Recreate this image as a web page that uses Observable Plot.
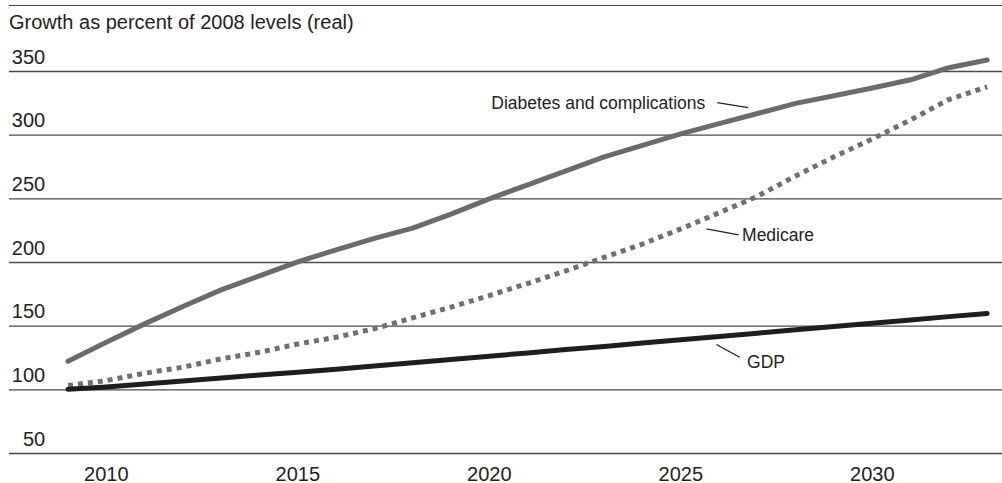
<!DOCTYPE html>
<html><head><meta charset="utf-8">
<script src="https://cdn.jsdelivr.net/npm/d3@7"></script>
<script src="https://cdn.jsdelivr.net/npm/@observablehq/plot@0.6"></script>
<style>
html,body{margin:0;padding:0;background:#fff;}
#wrap{position:relative;width:1002px;height:483px;font-family:"Liberation Sans",Arial,sans-serif;color:#222;overflow:hidden;}
#rule{position:absolute;left:9px;right:0;top:5px;border-top:1.4px solid #444;}
#title{position:absolute;left:9px;top:12px;font-size:20px;line-height:20px;white-space:nowrap;}
#chart{position:absolute;left:0;top:40px;}
</style></head><body>
<div id="wrap"><div id="rule"></div><div id="title">Growth as percent of 2008 levels (real)</div><div id="chart"></div></div>
<script>
const years = [2009,2010,2011,2012,2013,2014,2015,2016,2017,2018,2019,2020,2021,2022,2023,2024,2025,2026,2027,2028,2029,2030,2031,2032,2033];
const diabetes = [122.5,137.4,151.8,165.5,178.5,189.5,200.5,210,219,227,238,250,261,272,283,292,301,309,317,325,331,337,343.5,353,359];
const medicare = [103.4,107.3,113,117.8,124.3,129.5,136,141.3,148,156.5,165,174,183.5,193.5,204,214.5,226.4,239,252,268,283,297,312,328,338];
const gdp = [100.5,102.3,104.6,107,109.3,111.6,113.9,116.2,118.7,121.2,123.8,126.4,129,131.6,134.1,136.7,139.3,141.9,144.5,147.1,149.7,152.3,154.9,157.5,160];
const yTicks = [50,100,150,200,250,300,350];
const xTicks = [2010,2015,2020,2025,2030];
const labelNames = ["Diabetes and complications","Medicare","GDP"];
const labelYear = [2025.64,2026.6,2026.73];
const labelValue = [324.6,221.2,121.2];
const leaderYear1 = [2025.95,2025.67,2025.93];
const leaderValue1 = [325.6,226.4,135.6];
const leaderYear2 = [2026.76,2026.51,2026.54];
const leaderValue2 = [321.7,221.7,125.6];

const toRows = vals => years.map((year,i)=>({year, value: vals[i]}));
const labels = labelNames.map((name,i)=>({name, year: labelYear[i], value: labelValue[i], anchor: i===0 ? "end" : "start"}));
const leaders = labelNames.map((name,i)=>({x1: leaderYear1[i], y1: leaderValue1[i], x2: leaderYear2[i], y2: leaderValue2[i]}));
const xDomain = [2007.473, 2033.4];

const chart = Plot.plot({
  width: 1002,
  height: 443,
  marginLeft: 9,
  marginRight: 0,
  marginTop: 31,
  marginBottom: 30,
  style: {fontFamily: '"Liberation Sans", Arial, sans-serif', background: "#fff", overflow: "visible"},
  x: {domain: xDomain, axis: null},
  y: {domain: [50, 350], axis: null},
  marks: [
    Plot.ruleY(yTicks, {stroke: "#4a4a4a", strokeWidth: 1.3}),
    Plot.line(toRows(diabetes), {x: "year", y: "value", stroke: "#6b6b6b", strokeWidth: 5}),
    Plot.line(toRows(medicare), {x: "year", y: "value", stroke: "#707070", strokeWidth: 5, strokeDasharray: "5,5", strokeLinecap: "butt"}),
    Plot.line(toRows(gdp), {x: "year", y: "value", stroke: "#1e1e1e", strokeWidth: 5}),
    Plot.text(yTicks, {x: xDomain[0], y: d => d, text: d => String(d), textAnchor: "end", dx: 35.7, lineAnchor: "bottom", dy: -7.7, fontSize: 20, fill: "#222"}),
    Plot.text(xTicks, {x: d => d, frameAnchor: "bottom", text: d => String(d), lineAnchor: "bottom", dy: 27, fontSize: 20, fill: "#222"}),
    Plot.link(leaders, {x1: "x1", y1: "y1", x2: "x2", y2: "y2", stroke: "#222", strokeWidth: 1.3}),
    Plot.text(labels.filter(d => d.anchor === "end"), {x: "year", y: "value", text: "name", textAnchor: "end", fontSize: 17.5, fill: "#222"}),
    Plot.text(labels.filter(d => d.anchor === "start"), {x: "year", y: "value", text: "name", textAnchor: "start", fontSize: 17.5, fill: "#222"})
  ]
});
document.getElementById("chart").appendChild(chart);
</script>
</body></html>
